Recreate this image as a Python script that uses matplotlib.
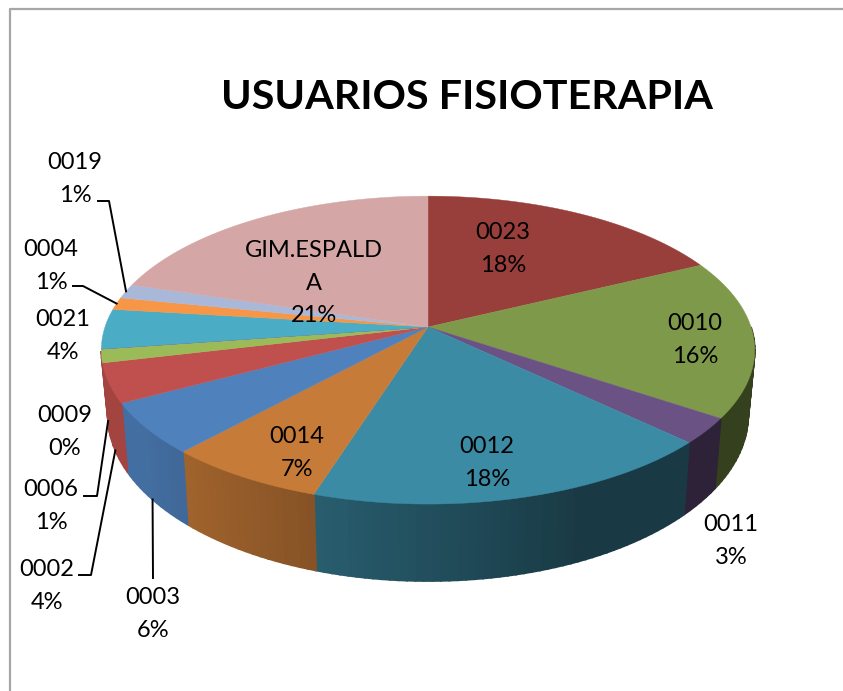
import numpy as np
import matplotlib
matplotlib.use('Agg')
import matplotlib.pyplot as plt

# Slices, clockwise from the top of the pie
names = ['0023', '0010', '0011', '0012', '0014', '0003', '0002',
         '0006', '0009', '0021', '0004', '0019', 'GIM.ESPALD\nA']
shares = [17.8, 16.6, 2.7, 17.8, 6.9, 5.4, 4.1, 1.4, 0.02, 4.18, 1.3, 1.5, 20.3]
percent_labels = ['18%', '16%', '3%', '18%', '7%', '6%', '4%',
                  '1%', '0%', '4%', '1%', '1%', '21%']
colors = ['#983F3C', '#7F994A', '#6A5284', '#3C8BA5', '#C77B38', '#4F81BD', '#C0504D',
          '#9BBB59', '#8064A2', '#4BACC6', '#F79646', '#A9B8D8', '#D5A6A6']
# The thin slices next to 0002 show its red on the side wall
wall_colors = colors[:7] + ['#C0504D', '#C0504D'] + colors[9:]

# Label centres in pixels
label_pos = [(503, 249), (695, 340), (731, 541), (487, 463), (297, 453), (153, 614), (47, 586),
             (51, 506), (65, 432), (63, 336), (51, 266), (75, 179), (314, 283)]
# Slice name -> where its leader line starts and bends
leaders = {'0019': [(98, 201), (109, 201)],
           '0004': [(73, 286), (83, 286)],
           '0006': [(84, 496), (97, 496)],
           '0002': [(79, 575), (91, 575)],
           '0003': [(153, 578)]}

plt.rcParams['font.family'] = ['Lato', 'DejaVu Sans']

fig = plt.figure(figsize=(8.43, 6.91), dpi=100)
ax = fig.add_axes([0, 0, 1, 1])
ax.set_xlim(0, 843)
ax.set_ylim(691, 0)
ax.axis('off')

# Perspective pie: far side is squeezed, near side stretched
CX, CY = 428, 327
RX, RY = 323, 150.5
TILT = 0.15
WALL_END = np.radians(261)


def top_rim(theta):
    u, v = np.sin(theta), np.cos(theta)
    w = 1 + TILT * v
    return CX + RX * u / w, CY - RY * v / w


def bottom_rim(theta):
    x, y = top_rim(theta)
    return CX + 0.98 * (x - CX), 474 + 1.08 * (y - 405)


def wall_shade(theta):
    return 0.42 + 0.43 * np.clip((0.4 - np.sin(theta)) / 1.2, 0, 1)


fractions = np.array(shares) / np.sum(shares)
edges = np.concatenate([[0], np.cumsum(fractions)]) * 2 * np.pi
mids = (edges[:-1] + edges[1:]) / 2

# Side walls, only the part facing the viewer
for i, c in enumerate(wall_colors):
    start = max(edges[i], np.pi / 2)
    stop = min(edges[i + 1], WALL_END)
    if stop <= start:
        continue
    base = np.array(matplotlib.colors.to_rgb(c))
    steps = np.linspace(start, stop, max(2, int((stop - start) * 45)))
    for a, b in zip(steps[:-1], steps[1:]):
        xt, yt = top_rim(np.array([a, b]))
        xb, yb = bottom_rim(np.array([b, a]))
        shade = base * wall_shade((a + b) / 2)
        ax.fill(np.r_[xt, xb], np.r_[yt, yb], color=shade, lw=1.3, zorder=2)

# Top faces
for i, c in enumerate(colors):
    t = np.linspace(edges[i], edges[i + 1], 80)
    x, y = top_rim(t)
    ax.fill(np.r_[CX, x], np.r_[CY, y], color=c, lw=0.3, zorder=3)

# Labels
for i, name in enumerate(names):
    ax.text(label_pos[i][0], label_pos[i][1], name + '\n' + percent_labels[i],
            fontsize=17, color='black', ha='center', va='center',
            linespacing=1.66, zorder=5)

# Leader lines end on the rim at the middle of their slice
for i, name in enumerate(names):
    if name not in leaders:
        continue
    if name in ('0019', '0004'):
        end = top_rim(mids[i])
    else:
        end = bottom_rim(mids[i])
    pts = leaders[name] + [end]
    ax.plot([p[0] for p in pts], [p[1] for p in pts], color='black', lw=1.4, zorder=4)

ax.text(467, 97, 'USUARIOS FISIOTERAPIA', fontsize=29.7, fontweight='bold',
        color='black', ha='center', va='center')

# Chart area border, only top and left are in the picture
ax.plot([10, 10, 843], [691, 9, 9], color='#A6A6A6', lw=1.6, zorder=1)

fig.savefig('out.png', dpi=100)
